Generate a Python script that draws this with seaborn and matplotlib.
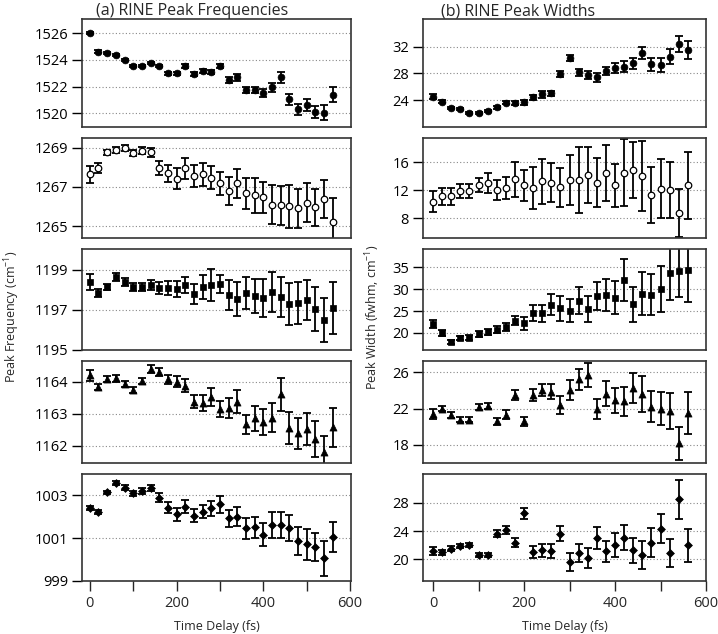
import numpy as np
import pandas as pd
import matplotlib
matplotlib.use("Agg")
import matplotlib.pyplot as plt
import seaborn as sns

# ---------------- data ----------------
time_fs = [0, 20, 40, 60, 80, 100, 120, 140, 160, 180, 200, 220, 240, 260, 280,
           300, 320, 340, 360, 380, 400, 420, 440, 460, 480, 500, 520, 540, 560]

freq_1526 = [1526.0, 1524.63, 1524.55, 1524.4, 1524.0, 1523.55, 1523.55, 1523.8, 1523.55, 1523.0,
             1523.0, 1523.55, 1522.95, 1523.2, 1523.1, 1523.55, 1522.5, 1522.7, 1521.75, 1521.75,
             1521.5, 1521.95, 1522.7, 1521.05, 1520.3, 1520.6, 1520.1, 1520.05, 1521.4]
freq_1526_err = [0.08, 0.08, 0.08, 0.08, 0.08, 0.08, 0.08, 0.08, 0.1, 0.1,
                 0.1, 0.12, 0.12, 0.15, 0.15, 0.18, 0.22, 0.25, 0.25, 0.25,
                 0.3, 0.35, 0.4, 0.4, 0.4, 0.45, 0.45, 0.55, 0.55]

freq_1267 = [1267.65, 1267.95, 1268.76, 1268.9, 1269.0, 1268.73, 1268.86, 1268.76, 1267.98, 1267.69,
             1267.43, 1267.95, 1267.57, 1267.64, 1267.47, 1267.18, 1266.8, 1267.18, 1266.67, 1266.58,
             1266.46, 1266.1, 1266.07, 1266.02, 1265.9, 1266.19, 1265.95, 1266.38, 1265.22]
freq_1267_err = [0.43, 0.25, 0.15, 0.15, 0.15, 0.15, 0.2, 0.25, 0.35, 0.45,
                 0.55, 0.55, 0.55, 0.6, 0.6, 0.6, 0.7, 0.75, 0.8, 0.9,
                 0.8, 1.0, 1.0, 1.1, 1.0, 1.0, 0.95, 0.95, 1.2]

freq_1198 = [1198.38, 1197.87, 1198.13, 1198.67, 1198.42, 1198.13, 1198.13, 1198.25, 1198.08, 1198.08,
             1198.03, 1198.25, 1197.78, 1198.13, 1198.25, 1198.3, 1197.75, 1197.53, 1197.87, 1197.7,
             1197.58, 1197.88, 1197.67, 1197.3, 1197.37, 1197.5, 1197.03, 1196.5, 1197.12]
freq_1198_err = [0.4, 0.2, 0.15, 0.2, 0.2, 0.2, 0.2, 0.25, 0.3, 0.35,
                 0.4, 0.4, 0.5, 0.6, 0.8, 0.45, 0.75, 0.85, 0.8, 0.85,
                 0.95, 1.0, 1.0, 1.05, 1.05, 1.0, 1.1, 1.1, 1.3]

freq_1163 = [1164.19, 1163.84, 1164.08, 1164.1, 1163.92, 1163.74, 1164.02, 1164.39, 1164.3, 1164.07,
             1164.0, 1163.87, 1163.38, 1163.33, 1163.52, 1163.16, 1163.18, 1163.38, 1162.67, 1162.86,
             1162.74, 1162.88, 1163.6, 1162.57, 1162.4, 1162.52, 1162.22, 1161.8, 1162.58]
freq_1163_err = [0.17, 0.1, 0.1, 0.1, 0.1, 0.1, 0.1, 0.12, 0.12, 0.15,
                 0.18, 0.2, 0.2, 0.25, 0.28, 0.25, 0.3, 0.35, 0.3, 0.38,
                 0.4, 0.45, 0.5, 0.5, 0.48, 0.5, 0.55, 0.5, 0.6]

freq_1002 = [1002.41, 1002.22, 1003.12, 1003.57, 1003.35, 1003.08, 1003.19, 1003.33, 1002.88, 1002.41,
             1002.1, 1002.46, 1002.04, 1002.22, 1002.38, 1002.57, 1001.91, 1001.99, 1001.45, 1001.5,
             1001.16, 1001.59, 1001.59, 1001.45, 1000.86, 1000.7, 1000.6, 1000.05, 1001.06]
freq_1002_err = [0.1, 0.08, 0.08, 0.1, 0.12, 0.12, 0.12, 0.15, 0.2, 0.25,
                 0.3, 0.3, 0.3, 0.3, 0.35, 0.4, 0.4, 0.45, 0.5, 0.5,
                 0.55, 0.6, 0.6, 0.6, 0.65, 0.7, 0.65, 0.8, 0.7]

width_1526 = [24.5, 23.75, 22.75, 22.6, 22.1, 22.1, 22.4, 22.9, 23.6, 23.6,
              23.65, 24.4, 24.85, 25.0, 27.85, 30.25, 28.15, 27.75, 27.4, 28.35,
              28.85, 29.0, 29.5, 31.0, 29.35, 29.25, 30.5, 32.4, 31.5]
width_1526_err = [0.4, 0.2, 0.15, 0.15, 0.15, 0.15, 0.15, 0.2, 0.25, 0.3,
                  0.35, 0.4, 0.5, 0.4, 0.45, 0.45, 0.55, 0.6, 0.65, 0.65,
                  0.75, 0.8, 0.85, 0.9, 0.95, 1.05, 1.15, 1.25, 1.3]

width_1267 = [10.4, 11.18, 11.18, 11.86, 11.86, 12.72, 13.06, 12.1, 12.39, 13.6,
              12.72, 12.34, 13.3, 13.1, 12.48, 13.54, 13.54, 14.27, 13.1, 14.5,
              12.72, 14.55, 14.9, 14.0, 11.37, 12.24, 12.1, 8.77, 12.72]
width_1267_err = [1.5, 1.2, 1.2, 1.0, 1.0, 1.0, 1.4, 1.4, 1.6, 2.5,
                  2.2, 3.0, 3.2, 2.8, 2.8, 3.6, 4.7, 4.0, 3.5, 4.0,
                  3.1, 4.8, 4.0, 5.0, 4.0, 4.2, 4.0, 3.4, 4.8]

width_1198 = [22.05, 20.07, 17.9, 18.9, 18.9, 19.77, 20.2, 20.7, 21.3, 22.83,
              22.2, 24.57, 24.5, 26.5, 25.6, 25.1, 27.4, 25.5, 28.45, 28.7,
              28.1, 32.1, 26.6, 29.0, 28.7, 30.0, 33.8, 34.15, 34.5]
width_1198_err = [1.0, 0.7, 0.5, 0.5, 0.6, 0.6, 0.7, 0.8, 0.9, 1.0,
                  1.5, 1.8, 1.9, 2.3, 2.9, 2.6, 3.0, 3.0, 3.2, 3.6,
                  3.7, 4.8, 4.0, 5.0, 4.7, 5.2, 6.3, 6.0, 7.5]

width_1163 = [21.4, 22.0, 21.3, 20.77, 20.77, 22.2, 22.3, 20.6, 21.3, 23.5,
              20.6, 23.5, 24.05, 23.87, 22.4, 24.05, 25.25, 25.7, 22.0, 23.65,
              22.9, 22.8, 24.3, 23.65, 22.2, 22.0, 21.7, 18.18, 21.55]
width_1163_err = [0.6, 0.3, 0.3, 0.3, 0.3, 0.3, 0.35, 0.4, 0.5, 0.5,
                  0.5, 0.7, 0.7, 0.85, 1.0, 1.1, 1.15, 1.3, 1.1, 1.4,
                  1.4, 1.6, 1.65, 2.0, 1.7, 1.8, 2.0, 1.8, 2.3]

width_1002 = [21.17, 21.0, 21.55, 21.87, 22.1, 20.6, 20.6, 23.67, 24.14, 22.4,
              26.55, 21.07, 21.3, 21.17, 23.67, 19.67, 20.93, 20.23, 23.04, 21.17,
              22.0, 23.1, 21.3, 20.6, 22.4, 24.37, 20.93, 28.5, 22.0]
width_1002_err = [0.6, 0.4, 0.3, 0.3, 0.3, 0.3, 0.3, 0.5, 0.6, 0.7,
                  0.8, 0.9, 0.9, 1.0, 1.1, 1.3, 1.3, 1.4, 1.5, 1.5,
                  1.7, 1.8, 1.8, 2.0, 2.0, 2.1, 2.0, 2.8, 2.3]

left_series = [(freq_1526, freq_1526_err), (freq_1267, freq_1267_err), (freq_1198, freq_1198_err),
               (freq_1163, freq_1163_err), (freq_1002, freq_1002_err)]
right_series = [(width_1526, width_1526_err), (width_1267, width_1267_err), (width_1198, width_1198_err),
                (width_1163, width_1163_err), (width_1002, width_1002_err)]

left_ticks = [[1520, 1522, 1524, 1526], [1265, 1267, 1269], [1195, 1197, 1199],
              [1162, 1163, 1164], [999, 1001, 1003]]
right_ticks = [[24, 28, 32], [8, 12, 16], [20, 25, 30, 35], [18, 22, 26], [20, 24, 28]]

left_ylim = [(1518.97, 1527.07), (1264.39, 1269.5), (1195.0, 1200.05), (1161.47, 1164.64), (999.0, 1003.98)]
right_ylim = [(19.95, 36.15), (5.2, 19.5), (16.1, 39.2), (16.0, 27.25), (16.95, 32.1)]

markers = ["o", "o", "s", "^", "D"]
marker_sizes = [24, 22, 22, 26, 16]
hollow = [False, True, False, False, False]

# ---------------- style ----------------
sns.set_style("ticks")
plt.rcParams["font.family"] = ["Open Sans", "DejaVu Sans"]
plt.rcParams["mathtext.fontset"] = "custom"
plt.rcParams["mathtext.rm"] = "Open Sans"

W, H = 718, 634
fig = plt.figure(figsize=(W / 100, H / 100), dpi=100)

row_tops = [19, 138, 249, 361, 474]
row_bots = [127, 238, 350, 463, 581]
col_x = [(82, 351), (423, 706)]
col_xlim = [(-18, 602), (-22, 600)]


def make_ax(col, row):
    x0, x1 = col_x[col]
    y0, y1 = row_tops[row], row_bots[row]
    return fig.add_axes([x0 / W, 1 - y1 / H, (x1 - x0) / W, (y1 - y0) / H])


for col, (series, ticks, ylims) in enumerate([(left_series, left_ticks, left_ylim),
                                              (right_series, right_ticks, right_ylim)]):
    for row in range(5):
        ax = make_ax(col, row)
        vals, errs = series[row]
        df = pd.DataFrame({"t": time_fs, "v": vals, "e": errs})
        ax.errorbar(df["t"], df["v"], yerr=df["e"], fmt="none", ecolor="black",
                    elinewidth=1.3, capsize=3.2, capthick=1.3, zorder=2)
        if hollow[row]:
            sns.scatterplot(data=df, x="t", y="v", marker=markers[row], s=marker_sizes[row],
                            facecolor="white", edgecolor="black", linewidth=0.9, ax=ax, zorder=3)
        else:
            sns.scatterplot(data=df, x="t", y="v", marker=markers[row], s=marker_sizes[row],
                            color="black", edgecolor="black", linewidth=0.5, ax=ax, zorder=3)
        ax.set_xlim(*col_xlim[col])
        ax.set_ylim(*ylims[row])
        ax.set_yticks(ticks[row])
        ax.yaxis.grid(True, linestyle=(0, (1, 2)), color="#888888", linewidth=0.8)
        ax.set_axisbelow(True)
        for sp in ax.spines.values():
            sp.set_visible(True)
            sp.set_color("#333333")
            sp.set_linewidth(1.2)
        ax.tick_params(axis="y", direction="out", length=7, width=1, labelsize=10.5,
                       colors="black", pad=3)
        ax.set_xlabel("")
        ax.set_ylabel("")
        if row < 4:
            ax.tick_params(axis="x", bottom=False, labelbottom=False)
        else:
            ax.set_xticks([0, 200, 400, 600])
            ax.set_xticks([100, 300, 500], minor=True)
            ax.tick_params(axis="x", which="both", direction="out", length=7, width=1,
                           labelsize=10.5, pad=4)
            ax.set_xlabel("Time Delay (fs)", fontsize=9, labelpad=6)

fig.text(192 / W, 1 - 11 / H, "(a) RINE Peak Frequencies", ha="center", va="center", fontsize=11.5)
fig.text(518 / W, 1 - 11 / H, "(b) RINE Peak Widths", ha="center", va="center", fontsize=11.5)
fig.text(12 / W, 0.5, "Peak Frequency (cm$^{-1}$)", rotation=90, ha="center", va="center", fontsize=9)
fig.text(373 / W, 0.5, "Peak Width (fwhm, cm$^{-1}$)", rotation=90, ha="center", va="center", fontsize=9)

fig.savefig("out.png", dpi=100)
